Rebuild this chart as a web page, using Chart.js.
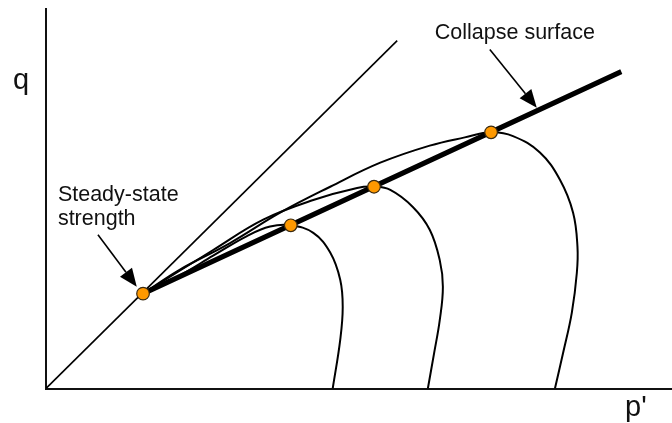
<!DOCTYPE html>
<html>
<head>
<meta charset="utf-8">
<script src="https://cdn.jsdelivr.net/npm/chart.js@4/dist/chart.umd.min.js"></script>
<style>
  html, body { margin: 0; padding: 0; background: #fff; overflow: hidden; }
  #wrap { width: 672px; height: 423px; position: relative; }
  canvas { display: block; }
</style>
</head>
<body>
<div id="wrap"><canvas id="grafico"></canvas></div>
<script>
// Data (p' on x, q on y)
const steadyState = [1.55, 1.50];
const stateLineEnd = [5.61, 5.50];
const collapseEnd = [9.19, 5.01];
const peaks = [[3.91, 2.58], [5.24, 3.19], [7.11, 4.05]];

const path1 = [[1.55, 1.50], [2.14, 1.79], [2.67, 2.10], [3.21, 2.41], [3.58, 2.56], [3.91, 2.58],
  [4.27, 2.46], [4.54, 2.15], [4.70, 1.72], [4.74, 1.29], [4.70, 0.77], [4.58, 0]];
const path2 = [[1.55, 1.50], [2.67, 2.19], [3.47, 2.67], [4.27, 2.98], [4.97, 3.17], [5.24, 3.19],
  [5.50, 3.14], [5.86, 2.87], [6.13, 2.51], [6.29, 2.03], [6.34, 1.61], [6.29, 1.08], [6.20, 0.56], [6.10, 0]];
const path3 = [[1.55, 1.50], [2.14, 1.88], [2.94, 2.30], [3.74, 2.78], [4.54, 3.19], [5.34, 3.57],
  [6.13, 3.84], [6.69, 3.97], [7.11, 4.05], [7.46, 3.99], [7.89, 3.73], [8.21, 3.30], [8.42, 2.78],
  [8.49, 2.24], [8.48, 1.83], [8.40, 1.20], [8.26, 0.56], [8.13, 0]];

// Annotations: [text lines, label x, label y, arrow tail x, tail y, tip x, tip y]
const annotations = [
  [['Steady-state', 'strength'], 0.19, 2.97, 0.83, 2.43, 1.45, 1.61],
  [['Collapse surface'], 6.21, 5.52, 7.09, 5.36, 7.84, 4.44]
];
const xTitle = "p'";
const yTitle = 'q';

const toXY = arr => arr.map(p => ({ x: p[0], y: p[1] }));

const curve = (pts, width) => ({
  data: toXY(pts),
  showLine: true,
  borderColor: '#000',
  borderWidth: width,
  pointRadius: 0,
  tension: 0.4,
  fill: false
});

const annotate = {
  id: 'annotate',
  afterDatasetsDraw(chart) {
    const { ctx, scales: { x, y }, chartArea } = chart;
    ctx.save();
    ctx.strokeStyle = '#000';
    ctx.textBaseline = 'alphabetic';
    ctx.font = '21.5px "Liberation Sans", Arial, sans-serif';
    annotations.forEach(a => {
      const lx = x.getPixelForValue(a[1]);
      const ly = y.getPixelForValue(a[2]);
      ctx.fillStyle = '#111';
      a[0].forEach((t, i) => ctx.fillText(t, lx, ly + i * 24));
      const x1 = x.getPixelForValue(a[3]), y1 = y.getPixelForValue(a[4]);
      const x2 = x.getPixelForValue(a[5]), y2 = y.getPixelForValue(a[6]);
      const ang = Math.atan2(y2 - y1, x2 - x1);
      const len = 18, half = 7.5;
      const bx = x2 - len * Math.cos(ang), by = y2 - len * Math.sin(ang);
      ctx.lineWidth = 1.6;
      ctx.beginPath();
      ctx.moveTo(x1, y1);
      ctx.lineTo(bx, by);
      ctx.stroke();
      ctx.beginPath();
      ctx.moveTo(x2, y2);
      ctx.lineTo(bx + half * Math.sin(ang), by - half * Math.cos(ang));
      ctx.lineTo(bx - half * Math.sin(ang), by + half * Math.cos(ang));
      ctx.closePath();
      ctx.fillStyle = '#000';
      ctx.fill();
    });
    // axis titles
    ctx.fillStyle = '#111';
    ctx.font = '29px "Liberation Sans", Arial, sans-serif';
    ctx.fillText(yTitle, chartArea.left - 33, chartArea.top + 80);
    ctx.fillText(xTitle, chartArea.right - 47, chartArea.bottom + 27);
    ctx.restore();
  }
};

new Chart(document.getElementById('grafico'), {
  type: 'scatter',
  data: {
    datasets: [
      {
        data: toXY([steadyState].concat(peaks)),
        pointRadius: 6.3,
        pointBackgroundColor: '#ff9900',
        pointBorderColor: '#3a2a10',
        pointBorderWidth: 1.2,
        showLine: false
      },
      curve([[0, 0], stateLineEnd], 1.6),
      curve([steadyState, collapseEnd], 5),
      curve(path1, 2),
      curve(path2, 2),
      curve(path3, 2)
    ]
  },
  options: {
    responsive: true,
    maintainAspectRatio: false,
    animation: false,
    layout: { autoPadding: false, padding: { left: 46, right: 0, top: 9, bottom: 34.5 } },
    plugins: { legend: { display: false }, tooltip: { enabled: false } },
    scales: {
      x: {
        min: 0, max: 10,
        grid: { display: false, drawTicks: false },
        ticks: { display: false },
        border: { display: true, color: '#111', width: 2 }
      },
      y: {
        min: 0, max: 6,
        grid: { display: false, drawTicks: false },
        ticks: { display: false },
        border: { display: true, color: '#111', width: 2 }
      }
    }
  },
  plugins: [annotate]
});
</script>
</body>
</html>
